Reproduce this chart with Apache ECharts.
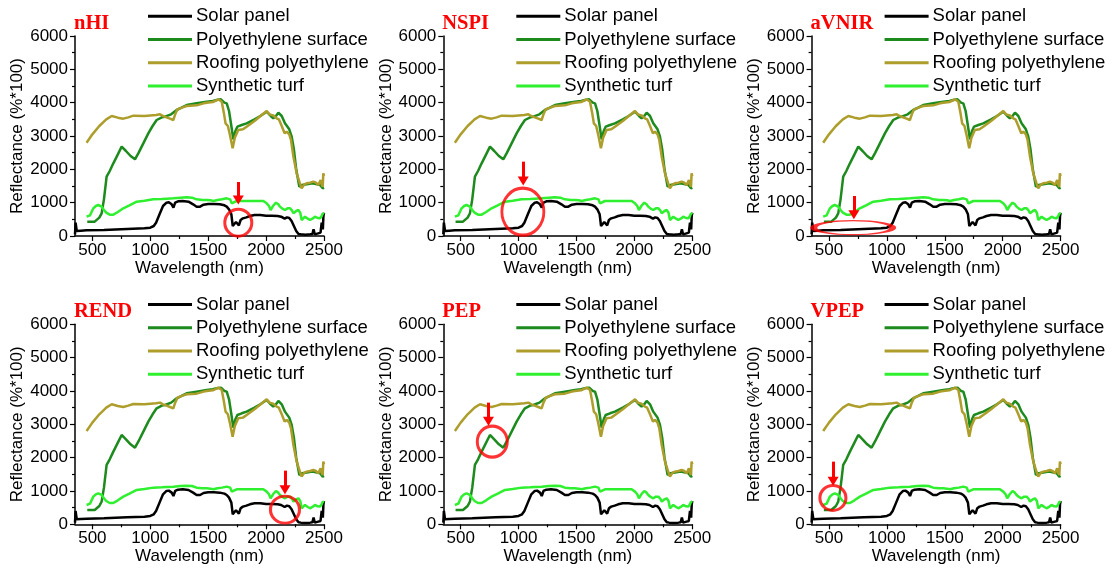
<!DOCTYPE html>
<html>
<head>
<meta charset="utf-8">
<script src="https://cdn.jsdelivr.net/npm/echarts@6/dist/echarts.min.js"></script>
<style>
  html, body { margin: 0; padding: 0; background: #fff; }
  #main { width: 1115px; height: 570px; }
</style>
</head>
<body>
<div id="main"></div>
<script>
// panel titles (index names)
const panelNames = ['nHI', 'NSPI', 'aVNIR', 'REND', 'PEP', 'VPEP'];
const seriesNames = ['Solar panel', 'Polyethylene surface', 'Roofing polyethylene', 'Synthetic turf'];
const xTicks = [500, 1000, 1500, 2000, 2500];
const xMinorTicks = [750, 1250, 1750, 2250];

// spectra (wavelength nm / reflectance %*100)
const solarNm = [350, 355, 365, 380, 400, 450, 600, 800, 950, 1000, 1030, 1050, 1080, 1110, 1140, 1160, 1185, 1200, 1215, 1240, 1280, 1330, 1370, 1400, 1430, 1460, 1500, 1550, 1600, 1640, 1660, 1680, 1700, 1712, 1725, 1740, 1750, 1765, 1780, 1800, 1830, 1860, 1900, 1950, 2000, 2050, 2100, 2130, 2160, 2180, 2200, 2220, 2240, 2260, 2280, 2300, 2340, 2380, 2400, 2410, 2420, 2430, 2450, 2470, 2480, 2490, 2495, 2500];
const solarVal = [50, 400, 150, 130, 160, 170, 180, 210, 230, 250, 300, 400, 650, 900, 1000, 1010, 950, 850, 1000, 1040, 1050, 1030, 950, 880, 880, 940, 960, 960, 950, 920, 880, 800, 650, 300, 250, 420, 380, 320, 480, 530, 560, 600, 630, 630, 610, 610, 600, 580, 520, 560, 540, 450, 300, 150, 60, 50, 40, 50, 60, 200, 50, 60, 80, 100, 400, 200, 600, 700];

const polyNm = [456, 520, 560, 580, 600, 623, 650, 681, 720, 753, 790, 830, 868, 900, 940, 983, 1020, 1055, 1100, 1127, 1180, 1228, 1270, 1314, 1400, 1487, 1540, 1573, 1610, 1640, 1660, 1680, 1700, 1717, 1735, 1752, 1790, 1832, 1900, 1950, 2005, 2040, 2062, 2085, 2106, 2135, 2163, 2200, 2221, 2240, 2260, 2287, 2310, 2350, 2400, 2440, 2466, 2489, 2500];
const polyVal = [430, 430, 550, 680, 1100, 1780, 1950, 2180, 2450, 2680, 2550, 2400, 2300, 2500, 2780, 3080, 3300, 3480, 3560, 3580, 3650, 3780, 3850, 3930, 3980, 4030, 4050, 4080, 4100, 4000, 3980, 3750, 3300, 2900, 3150, 3280, 3330, 3380, 3500, 3600, 3730, 3600, 3530, 3600, 3700, 3600, 3380, 3200, 2980, 2600, 2000, 1480, 1530, 1550, 1580, 1550, 1530, 1430, 1450];

const roofNm = [450, 500, 560, 620, 667, 720, 767, 810, 854, 950, 1050, 1084, 1110, 1140, 1170, 1199, 1215, 1235, 1280, 1314, 1400, 1460, 1487, 1540, 1588, 1617, 1635, 1650, 1670, 1690, 1711, 1730, 1760, 1800, 1832, 1900, 1960, 2005, 2030, 2060, 2091, 2110, 2135, 2160, 2178, 2200, 2215, 2236, 2264, 2290, 2307, 2330, 2350, 2380, 2408, 2430, 2451, 2471, 2480, 2489, 2494, 2500];
const roofVal = [2800, 3050, 3300, 3500, 3600, 3550, 3520, 3560, 3610, 3600, 3630, 3650, 3600, 3560, 3520, 3480, 3650, 3800, 3860, 3900, 3920, 3980, 4000, 4020, 4100, 4030, 3700, 3380, 3300, 3000, 2630, 2950, 3180, 3200, 3280, 3450, 3620, 3750, 3650, 3620, 3530, 3500, 3300, 3080, 3130, 3050, 2880, 2380, 1880, 1600, 1430, 1550, 1580, 1600, 1630, 1600, 1530, 1680, 1550, 1480, 1880, 1800];

const turfNm = [450, 480, 508, 530, 550, 565, 580, 600, 620, 650, 681, 720, 767, 820, 883, 950, 1026, 1100, 1142, 1200, 1260, 1314, 1360, 1400, 1450, 1487, 1520, 1545, 1580, 1620, 1660, 1690, 1703, 1720, 1746, 1800, 1900, 1976, 2005, 2025, 2039, 2060, 2085, 2105, 2120, 2140, 2163, 2185, 2207, 2225, 2236, 2260, 2279, 2295, 2307, 2320, 2336, 2360, 2379, 2400, 2422, 2445, 2466, 2480, 2489, 2500];
const turfVal = [580, 620, 830, 900, 930, 920, 880, 780, 700, 640, 640, 720, 830, 920, 1030, 1060, 1100, 1110, 1120, 1130, 1150, 1160, 1150, 1100, 1080, 1080, 1070, 1050, 1080, 1100, 1130, 1100, 980, 1000, 1050, 1050, 1050, 1050, 980, 900, 780, 900, 1000, 950, 880, 820, 780, 830, 830, 760, 680, 750, 780, 700, 480, 520, 580, 520, 480, 520, 580, 540, 530, 600, 680, 650];

// red circle + arrow highlighting the feature each index uses
const notes = [
  { c: [1760, 400], size: [27, 27], arrow: [1760, 1620, 1080] },
  { c: [1037, 730], size: [42, 47], arrow: [1040, 2230, 1650] },
  { c: [709, 250], size: [79, 14], arrow: [715, 1200, 640] },
  { c: [2163, 440], size: [29, 27], arrow: [2163, 1610, 1040] },
  { c: [773, 2480], size: [30, 31], arrow: [740, 3650, 3090] },
  { c: [534, 790], size: [26, 25], arrow: [536, 1880, 1290] }
];

const colors = ['#000000', '#1c8a1c', '#ad9d2b', '#2ef02e'];
const font = 'Liberation Sans, Arial, sans-serif';
const pairs = (a, b) => a.map((v, i) => [v, b[i]]);
const spectra = [pairs(solarNm, solarVal), pairs(polyNm, polyVal), pairs(roofNm, roofVal), pairs(turfNm, turfVal)];
const plain = v => String(v);

const grid = [], xAxis = [], yAxis = [], series = [], legend = [], title = [];
panelNames.forEach((name, p) => {
  const col = p % 3, row = Math.floor(p / 3);
  const left = 75 + 368.3 * col, top = 36 + 288.3 * row;
  grid.push({ left: left, top: top, width: 249, height: 200 });
  xAxis.push({
    type: 'value', gridIndex: p, min: 350, max: 2500,
    name: 'Wavelength (nm)', nameLocation: 'middle', nameGap: 22,
    nameTextStyle: { fontSize: 17, fontFamily: font, color: '#000' },
    axisLine: { lineStyle: { color: '#000', width: 1.5 } },
    axisTick: { customValues: xTicks, length: 5, lineStyle: { color: '#000', width: 1.2 } },
    axisLabel: { customValues: xTicks, formatter: plain, fontSize: 17, fontFamily: font, color: '#000', margin: 6 },
    splitLine: { show: false }
  });
  // second x axis only for the short minor ticks
  xAxis.push({
    type: 'value', gridIndex: p, min: 350, max: 2500, position: 'bottom',
    axisLine: { show: false },
    axisTick: { customValues: xMinorTicks, length: 3, lineStyle: { color: '#000', width: 1.2 } },
    axisLabel: { show: false },
    splitLine: { show: false }
  });
  yAxis.push({
    type: 'value', gridIndex: p, min: 0, max: 6000, interval: 1000,
    name: 'Reflectance (%*100)', nameLocation: 'middle', nameGap: 45,
    nameTextStyle: { fontSize: 17, fontFamily: font, color: '#000' },
    axisLine: { show: true, lineStyle: { color: '#000', width: 1.5 } },
    axisTick: { show: true, length: 5, lineStyle: { color: '#000', width: 1.2 } },
    minorTick: { show: true, splitNumber: 2, length: 3, lineStyle: { color: '#000', width: 1.2 } },
    axisLabel: { formatter: plain, fontSize: 17, fontFamily: font, color: '#000', margin: 7 },
    splitLine: { show: false }
  });
  spectra.forEach((d, s) => {
    series.push({
      name: seriesNames[s], type: 'line', xAxisIndex: 2 * p, yAxisIndex: p,
      data: d, symbol: 'none', color: colors[s],
      lineStyle: { width: 2.5, color: colors[s] }, silent: true, animation: false
    });
  });
  const n = notes[p];
  series.push({
    type: 'scatter', xAxisIndex: 2 * p, yAxisIndex: p, z: 5, silent: true, animation: false,
    data: [n.c], symbol: 'circle', symbolSize: n.size,
    itemStyle: { color: 'rgba(0,0,0,0)', borderColor: '#ff0000', borderWidth: 3 },
    markLine: {
      silent: true, animation: false,
      symbol: ['none', 'triangle'], symbolSize: [11, 9],
      label: { show: false },
      lineStyle: { color: '#ff0000', width: 3, type: 'solid' },
      data: [[{ coord: [n.arrow[0], n.arrow[1]] }, { coord: [n.arrow[0], n.arrow[2]] }]]
    }
  });
  legend.push({
    data: seriesNames, orient: 'vertical', selectedMode: false,
    left: 148 + 368.3 * col, top: 4.5 + 288.3 * row, padding: 0,
    icon: 'rect', itemWidth: 44, itemHeight: 3, itemGap: 0,
    textStyle: { fontSize: 18.5, lineHeight: 23.3, fontFamily: font, color: '#000', padding: [0, 0, 0, -1] }
  });
  title.push({
    text: name, left: 74 + 368.3 * col, top: 13 + 288.3 * row, padding: 0,
    textStyle: { fontFamily: 'Liberation Serif, Times New Roman, serif', fontWeight: 'bold', fontSize: 20.5, color: '#ff0000' }
  });
});

const chart = echarts.init(document.getElementById('main'));
chart.setOption({
  animation: false,
  backgroundColor: '#fff',
  title: title,
  legend: legend,
  grid: grid,
  xAxis: xAxis,
  yAxis: yAxis,
  series: series
});
</script>
</body>
</html>
